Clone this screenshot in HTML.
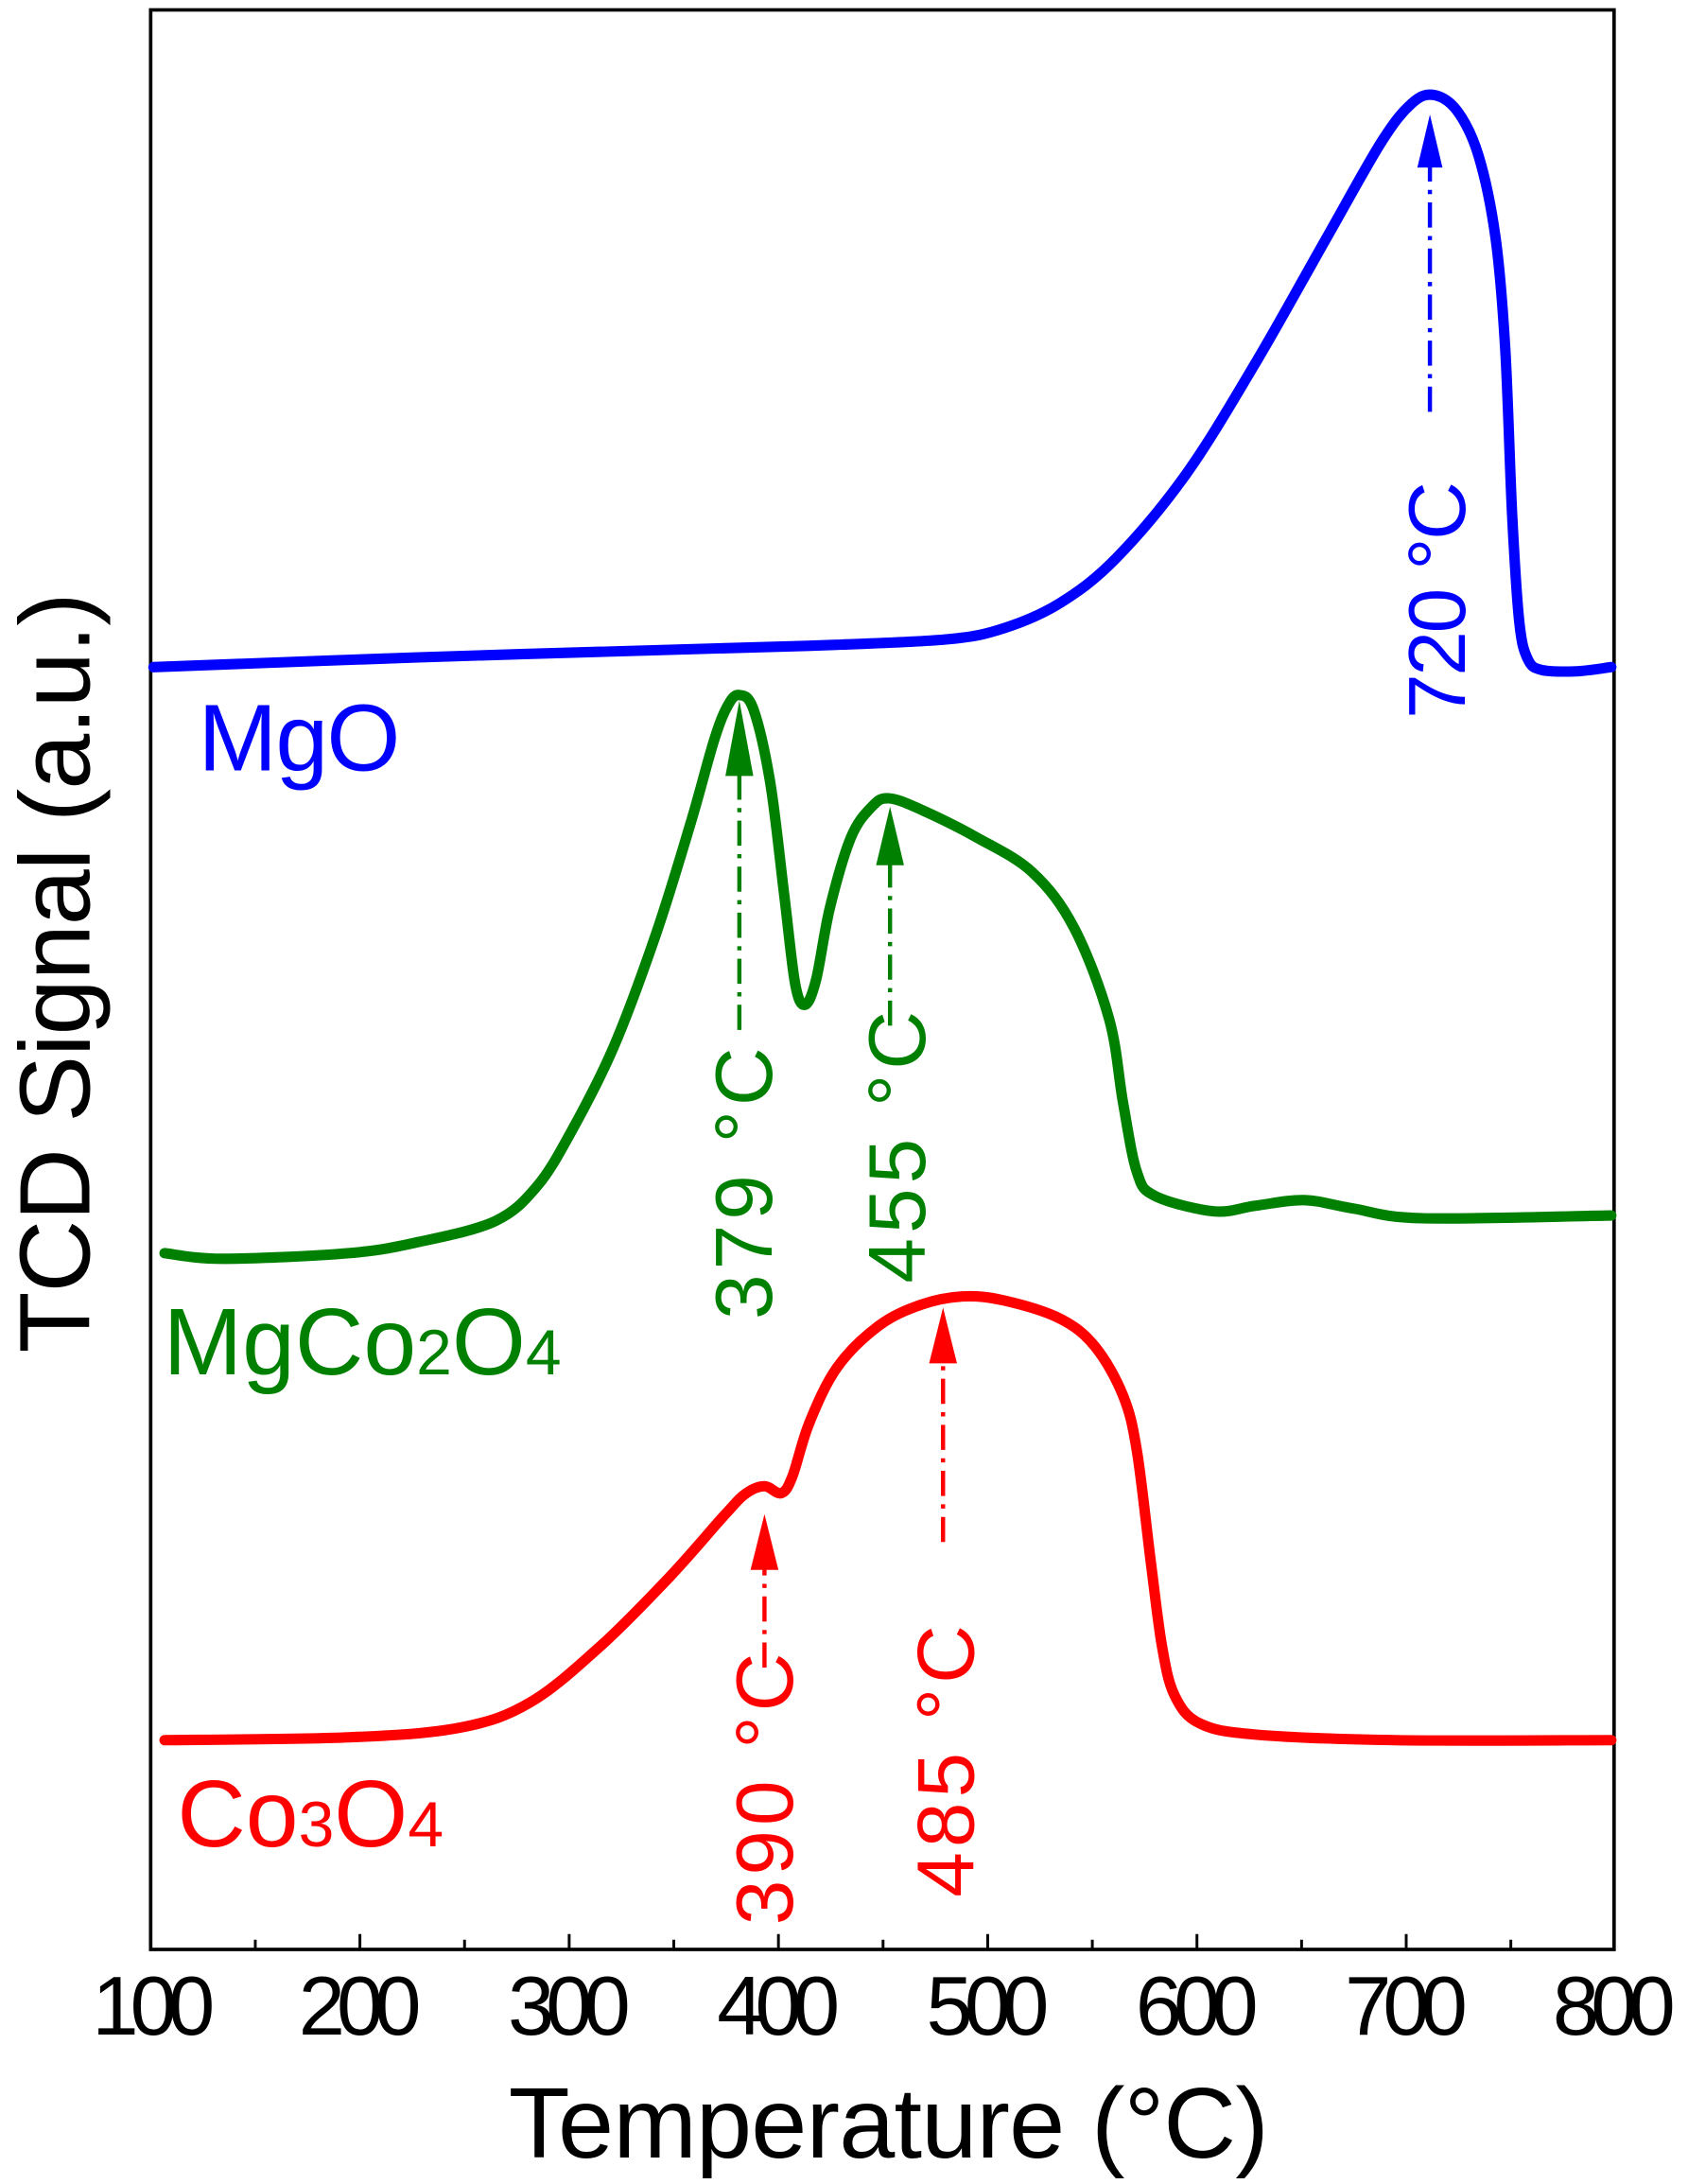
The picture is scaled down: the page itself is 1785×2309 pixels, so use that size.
<!DOCTYPE html>
<html><head><meta charset="utf-8"><style>html,body{margin:0;padding:0;background:#fff}svg{display:block}</style></head>
<body>
<svg id="s" width="1785" height="2309" viewBox="0 0 1210 1565" xmlns="http://www.w3.org/2000/svg" font-family="Liberation Sans, Arial, sans-serif">
<rect x="108" y="7" width="1049" height="1390" fill="none" stroke="#000" stroke-width="2.5"/>
<g stroke="#000" stroke-width="2">
<path d="M183 1397v-7M333 1397v-7M483 1397v-7M633 1397v-7M783 1397v-7M933 1397v-7M1083 1397v-7"/>
<path d="M258 1397v-11M408 1397v-11M558 1397v-11M708 1397v-11M858 1397v-11M1008 1397v-11"/>
</g>
<g font-size="60" text-anchor="middle" fill="#000">
<text x="110" y="1458" textLength="88">100</text><text x="258" y="1458" textLength="88">200</text><text x="408" y="1458" textLength="88">300</text><text x="558" y="1458" textLength="88">400</text><text x="708" y="1458" textLength="88">500</text><text x="858" y="1458" textLength="88">600</text><text x="1008" y="1458" textLength="88">700</text><text x="1157" y="1458" textLength="88">800</text>
</g>
<text x="637" y="1546" font-size="72" text-anchor="middle" textLength="545">Temperature (°C)</text>
<text transform="translate(64,697) rotate(-90)" font-size="72" text-anchor="middle" textLength="545">TCD Signal (a.u.)</text>
<g fill="none" stroke-width="7.5" stroke-linejoin="round" stroke-linecap="round">
<polyline class="c" stroke="#0000ff" points="110,478 300,471 500,465 600,462 680,458 720,450 760,432 800,400 850,340 900,260 950,172 990,102 1012,74 1028,68 1045,80 1060,112 1072,170 1079,250 1084,370 1089,445 1095,472 1105,480 1130,481 1155,478"/>
<polyline class="c" stroke="#008000" points="118,898 160,902 250,898 300,890 355,875 385,850 410,810 440,750 470,670 495,590 512,530 522,505 530,498 540,508 552,560 562,640 570,705 577,720 585,702 595,650 610,600 625,578 637,572 660,580 700,600 740,625 770,665 795,730 805,790 815,840 828,857 870,868 900,864 935,860 970,866 1020,873 1155,871"/>
<polyline class="c" stroke="#ff0000" points="118,1247 250,1245 330,1238 380,1220 430,1180 480,1130 520,1085 535,1070 548,1065 560,1070 568,1058 580,1020 600,980 630,950 660,935 690,929 720,932 760,945 785,965 805,1000 815,1040 825,1120 833,1180 842,1215 860,1235 900,1243 1000,1247 1155,1247"/>
</g>
<g stroke-width="3" stroke-dasharray="18,6,3,6" fill="none">
<path stroke="#0000ff" d="M1025 295V110"/>
<path stroke="#008000" d="M530 738V540M638 735V612"/>
<path stroke="#ff0000" d="M548 1195V1120M676 1105V972"/>
</g>
<polygon fill="#0000ff" points="1025,82 1016,120 1034,120"/>
<polygon fill="#008000" points="530,502 520,556 540,556"/>
<polygon fill="#008000" points="638,578 628,620 648,620"/>
<polygon fill="#ff0000" points="548,1085 538,1125 558,1125"/>
<polygon fill="#ff0000" points="676,937 666,977 686,977"/>
<g font-size="58" text-anchor="middle">
<text fill="#0000ff" transform="translate(1050,430) rotate(-90)" textLength="170">720 °C</text>
<text fill="#008000" transform="translate(553,848) rotate(-90)" textLength="195">379 °C</text>
<text fill="#008000" transform="translate(663,822) rotate(-90)" textLength="195">455 °C</text>
<text fill="#ff0000" transform="translate(568,1282) rotate(-90)" textLength="195">390 °C</text>
<text fill="#ff0000" transform="translate(698,1262) rotate(-90)" textLength="195">485 °C</text>
</g>
<g font-size="68">
<text x="142" y="552" fill="#0000ff" textLength="145">MgO</text>
<text x="117" y="985" fill="#008000">MgCo<tspan font-size="46">2</tspan>O<tspan font-size="46">4</tspan></text>
<text x="127" y="1323" fill="#ff0000">Co<tspan font-size="46">3</tspan>O<tspan font-size="46">4</tspan></text>
</g>
</svg>
<script>
document.querySelectorAll('polyline.c').forEach(function(pl){
  var p=pl.getAttribute('points').trim().split(/\s+/).map(function(s){return s.split(',').map(Number);});
  var d='M'+p[0][0]+' '+p[0][1];
  for(var i=0;i<p.length-1;i++){
    var p0=p[i-1]||p[i],p1=p[i],p2=p[i+1],p3=p[i+2]||p2;
    var c1x=p1[0]+(p2[0]-p0[0])/6,c1y=p1[1]+(p2[1]-p0[1])/6;
    var c2x=p2[0]-(p3[0]-p1[0])/6,c2y=p2[1]-(p3[1]-p1[1])/6;
    d+='C'+c1x.toFixed(1)+' '+c1y.toFixed(1)+' '+c2x.toFixed(1)+' '+c2y.toFixed(1)+' '+p2[0]+' '+p2[1];
  }
  var path=document.createElementNS('http://www.w3.org/2000/svg','path');
  path.setAttribute('d',d);path.setAttribute('stroke',pl.getAttribute('stroke'));
  pl.parentNode.replaceChild(path,pl);
});
</script>
</body></html>
